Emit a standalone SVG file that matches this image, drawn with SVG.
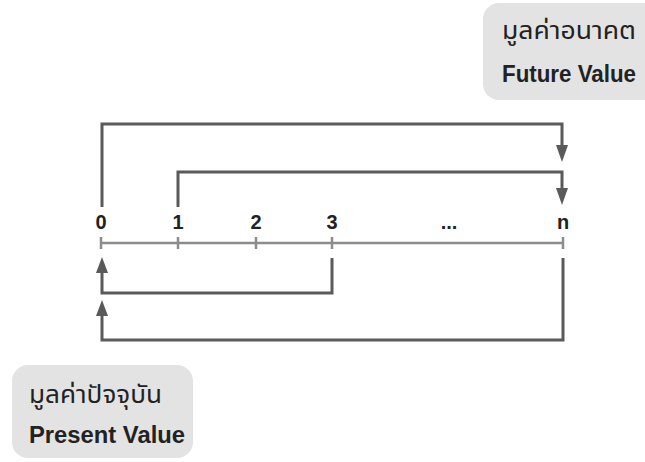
<svg xmlns="http://www.w3.org/2000/svg" width="645" height="462" viewBox="0 0 645 462">
<defs>
<style>
.box{fill:#e3e3e3;}
.t{font-family:"Liberation Sans","Noto Sans Thai","Noto Sans",Arial,sans-serif;font-weight:bold;fill:#222;}
.th{font-family:"Noto Sans Thai","Noto Sans","Liberation Sans",sans-serif;font-weight:normal;fill:#222;}
.lbl{font-size:20px;text-anchor:middle;}
.br{fill:none;stroke:#5a5a5a;stroke-width:3;}
.ax{fill:none;stroke:#8c8c8c;stroke-width:2.5;}
.ah{fill:#5a5a5a;}
</style>
</defs>
<rect width="645" height="462" fill="#ffffff"/>
<g id="future-value">
<rect class="box" x="483" y="3" width="178" height="97" rx="16"/>
<text class="th" x="502" y="39" font-size="24" textLength="134" lengthAdjust="spacingAndGlyphs">มูลค่าอนาคต</text>
<text class="t" x="502" y="82" font-size="23" textLength="134" lengthAdjust="spacingAndGlyphs">Future Value</text>
</g>
<g id="present-value">
<rect class="box" x="12" y="365" width="181" height="93" rx="16"/>
<text class="th" x="29" y="403" font-size="24" textLength="133" lengthAdjust="spacingAndGlyphs">มูลค่าปัจจุบัน</text>
<text class="t" x="29" y="443" font-size="23" textLength="156" lengthAdjust="spacingAndGlyphs">Present Value</text>
</g>
<g id="timeline">
<line class="ax" x1="101" y1="243" x2="563" y2="243"/>
<line class="ax" x1="101" y1="237" x2="101" y2="249"/>
<line class="ax" x1="178" y1="237" x2="178" y2="249"/>
<line class="ax" x1="256" y1="237" x2="256" y2="249"/>
<line class="ax" x1="332" y1="237" x2="332" y2="249"/>
<line class="ax" x1="563" y1="237" x2="563" y2="249"/>
<text class="t lbl" x="101" y="229">0</text>
<text class="t lbl" x="178" y="229">1</text>
<text class="t lbl" x="256" y="229">2</text>
<text class="t lbl" x="332" y="229">3</text>
<text class="t lbl" x="449" y="229">...</text>
<text class="t lbl" x="563" y="229">n</text>
</g>
<g id="connectors">
<path class="br" d="M102 207 V124 H562 V146"/>
<polygon class="ah" points="556,145 568,145 562,162"/>
<path class="br" d="M178 207 V172 H562 V189"/>
<polygon class="ah" points="556,188 568,188 562,205"/>
<path class="br" d="M332 258 V293 H102 V272"/>
<polygon class="ah" points="96,273 108,273 102,257"/>
<path class="br" d="M563 258 V340 H102 V315"/>
<polygon class="ah" points="96,316 108,316 102,300"/>
</g>
</svg>
